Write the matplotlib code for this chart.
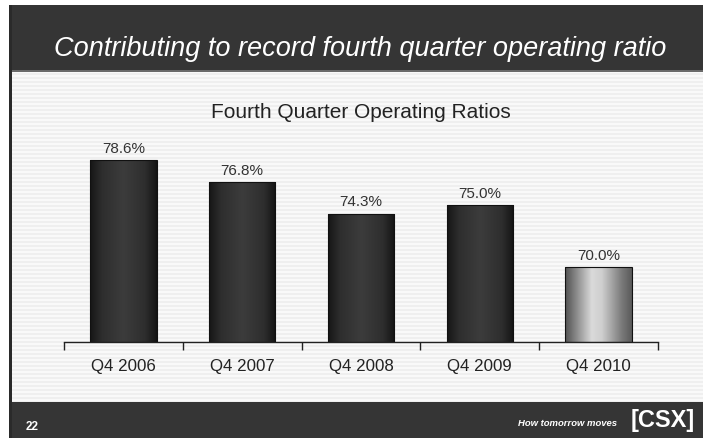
import numpy as np
import matplotlib
matplotlib.use("Agg")
import matplotlib.pyplot as plt
from matplotlib.colors import LinearSegmentedColormap
from matplotlib.patches import Rectangle

plt.rcParams['font.family'] = ['Liberation Sans', 'DejaVu Sans']

categories = ["Q4 2006", "Q4 2007", "Q4 2008", "Q4 2009", "Q4 2010"]
ratios = [78.6, 76.8, 74.3, 75.0, 70.0]
value_labels = ["78.6%", "76.8%", "74.3%", "75.0%", "70.0%"]
slide_title = "Contributing to record fourth quarter operating ratio"
chart_title = "Fourth Quarter Operating Ratios"
page_number = "22"
tagline = "How tomorrow moves"
logo = "[CSX]"

W, H = 703, 438
fig = plt.figure(figsize=(W / 100, H / 100), dpi=100)
fig.patch.set_facecolor("white")

# background layer in pixel coordinates
bg = fig.add_axes([0, 0, 1, 1])
bg.set_xlim(0, W)
bg.set_ylim(H, 0)
bg.axis("off")

# striped content area
rows = 331
stripe = np.array([[0.975 if (i // 2) % 2 == 0 else 0.935] for i in range(rows)])
bg.imshow(stripe, cmap="gray", vmin=0, vmax=1, aspect="auto",
          extent=(12, W, 402, 71), interpolation="nearest", zorder=0)
# header and footer bands
bg.add_patch(Rectangle((9, 5), W - 9, 66, facecolor="#353535", edgecolor="none", zorder=1))
bg.add_patch(Rectangle((9, 70), W - 9, 1.5, facecolor="#6a6a6a", edgecolor="none", zorder=1))
bg.add_patch(Rectangle((9, 402), W - 9, 36, facecolor="#353535", edgecolor="none", zorder=1))
bg.add_patch(Rectangle((9, 5), 3, H - 5, facecolor="#2a2a2a", edgecolor="none", zorder=2))

bg.text(360, 49, slide_title, color="white", fontsize=19.5, style="italic",
        ha="center", va="center", zorder=3)
bg.text(26, 427, page_number, color="white", fontsize=8.5, fontweight="bold",
        ha="left", va="center", zorder=3)
bg.text(617, 423, tagline, color="white", fontsize=6.8, fontweight="bold", style="italic",
        ha="right", va="center", zorder=3)
bg.text(663, 421, logo, color="white", fontsize=17, fontweight="bold",
        ha="center", va="center", zorder=3)
bg.text(361, 113, chart_title, color="#222222", fontsize=15,
        ha="center", va="center", zorder=3)

# chart axes
left_px, right_px = 64, 658
base_px, top_px = 341.7, 140
ax = fig.add_axes([left_px / W, 1 - base_px / H, (right_px - left_px) / W, (base_px - top_px) / H])
ax.patch.set_alpha(0)
ymin = 64
ymax = ymin + (base_px - top_px) / 12.44
ax.set_xlim(-0.5, len(categories) - 0.5)
ax.set_ylim(ymin, ymax)

x = np.arange(len(categories))
bars = ax.bar(x, [r - ymin for r in ratios], bottom=ymin, width=0.56,
              color="none", edgecolor="#111111", linewidth=0.8, zorder=3)

dark_cmap = LinearSegmentedColormap.from_list(
    "dark", [(0, "#161616"), (0.18, "#2e2e2e"), (0.5, "#3c3c3c"), (0.82, "#2e2e2e"), (1, "#141414")])
light_cmap = LinearSegmentedColormap.from_list(
    "light", [(0, "#505050"), (0.4, "#dadada"), (0.55, "#cfcfcf"), (0.85, "#7a7a7a"), (1, "#5a5a5a")])
grad = np.linspace(0, 1, 256).reshape(1, -1)
for i, b in enumerate(bars):
    cmap = light_cmap if i == len(bars) - 1 else dark_cmap
    x0, y0 = b.get_x(), b.get_y()
    w, h = b.get_width(), b.get_height()
    im = ax.imshow(grad, cmap=cmap, aspect="auto", extent=(x0, x0 + w, y0, y0 + h),
                   interpolation="bilinear", zorder=2)
    im.set_clip_path(b)
    ax.text(x[i], ratios[i] + 0.35, value_labels[i], ha="center", va="bottom",
            fontsize=11, color="#333333", zorder=4)

ax.set_xlim(-0.5, len(categories) - 0.5)
ax.set_ylim(ymin, ymax)
for s in ["top", "right", "left"]:
    ax.spines[s].set_visible(False)
ax.spines["bottom"].set_color("#222222")
ax.spines["bottom"].set_linewidth(1.0)
ax.set_yticks([])
ax.set_xticks(x)
ax.set_xticklabels(categories, fontsize=12.2, color="#222222")
ax.tick_params(axis="x", which="major", length=0, pad=12.5)
ax.set_xticks(np.arange(-0.5, len(categories)), minor=True)
ax.tick_params(axis="x", which="minor", length=6, width=1.0, color="#222222", direction="out")

fig.savefig("out.png", dpi=100)
